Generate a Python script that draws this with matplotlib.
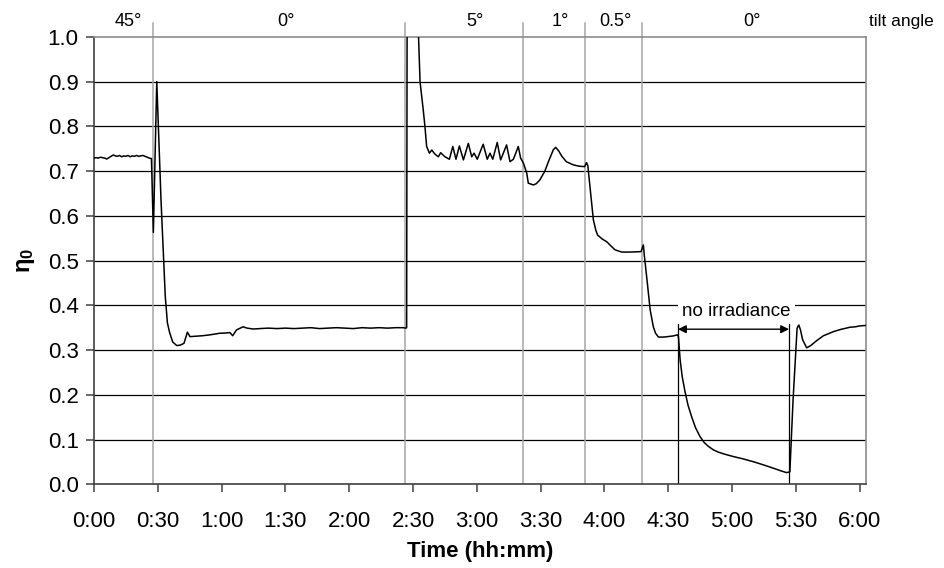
import matplotlib
matplotlib.use("Agg")
import matplotlib.pyplot as plt

plt.rcParams['font.family'] = ['Liberation Sans', 'DejaVu Sans']
plt.rcParams['mathtext.fontset'] = 'custom'
plt.rcParams['mathtext.rm'] = 'Liberation Sans'
plt.rcParams['mathtext.it'] = 'Liberation Sans:italic'
plt.rcParams['mathtext.bf'] = 'Liberation Sans:bold'

# ---- data (time in minutes, efficiency eta0) ----
time_min = [0, 1, 2, 3, 4, 5, 6, 7, 8, 9, 10, 11, 12, 13, 14, 15, 16, 17, 18, 19, 20,
            21, 22, 23, 24, 25, 26, 27, 27.9, 29.5, 31.5, 33.5, 34.5, 35.5, 37, 38.9,
            40.5, 42.3, 43.9, 45.1, 48, 51, 54.5, 57, 59.2, 61.5, 63.9, 65.2, 67, 70.1,
            72, 74.9, 78, 82, 86, 90, 94, 98, 102, 106, 110, 114, 118, 122, 126, 130,
            134, 138, 142, 145.4, 146.6, 147.0, 147.3, 150, 152.3, 152.6, 153.3, 154.8,
            155.6, 156.4, 157.7, 158.8, 160.3, 161.9, 163, 165, 167.1, 168.7, 170.2,
            171.8, 173.7, 176, 177.6, 178.7, 180.2, 183, 184.9, 186.2, 187.5, 189.6,
            191.2, 194, 195.6, 197.2, 199.5, 200.6, 201.9, 203.5, 204.2, 206.6, 208,
            209.6, 211.9, 214, 216, 217.1, 218.5, 220, 222.1, 225.3, 228, 230.7, 231.6,
            232.2, 233.2, 234.8, 236, 236.8, 239, 241.1, 243, 245, 248.1, 252, 257.2,
            258.3, 258.8, 260.2, 261.5, 263, 264, 265.4, 268, 272.4, 274.3, 274.8,
            275.6, 276.6, 277.9, 279.3, 281, 282.8, 284.9, 286.8, 288.8, 291.2, 293.5,
            296, 300.6, 305, 310, 315, 319.4, 323, 325.7, 327.2, 328.7, 330.6, 331.4,
            332.2, 333.2, 335.1, 337, 339.8, 343, 347.6, 351, 355.5, 358, 360.2, 363]
eta0 = [0.729, 0.730, 0.729, 0.731, 0.730, 0.729, 0.727, 0.730, 0.733, 0.736, 0.734,
        0.733, 0.735, 0.732, 0.734, 0.733, 0.735, 0.732, 0.734, 0.733, 0.735, 0.733,
        0.734, 0.735, 0.733, 0.731, 0.729, 0.728, 0.563, 0.900, 0.635, 0.420, 0.361,
        0.340, 0.318, 0.310, 0.311, 0.315, 0.340, 0.330, 0.331, 0.332, 0.334, 0.336,
        0.3376, 0.338, 0.339, 0.332, 0.345, 0.352, 0.349, 0.347, 0.348, 0.349, 0.348,
        0.349, 0.348, 0.349, 0.350, 0.348, 0.349, 0.350, 0.349, 0.348, 0.350, 0.349,
        0.350, 0.349, 0.350, 0.350, 0.349, 0.350, 1.300, 1.300, 1.250, 1.000, 0.900,
        0.837, 0.800, 0.755, 0.740, 0.747, 0.738, 0.732, 0.741, 0.732, 0.7265, 0.755,
        0.7265, 0.756, 0.725, 0.762, 0.732, 0.740, 0.7265, 0.760, 0.7265, 0.740,
        0.7265, 0.764, 0.725, 0.7585, 0.721, 0.7265, 0.755, 0.729, 0.718, 0.695,
        0.673, 0.669, 0.672, 0.680, 0.699, 0.725, 0.748, 0.753, 0.745, 0.733, 0.721,
        0.714, 0.711, 0.710, 0.719, 0.712, 0.665, 0.591, 0.567, 0.557, 0.548, 0.542,
        0.533, 0.524, 0.519, 0.519, 0.520, 0.535, 0.510, 0.449, 0.390, 0.352, 0.338,
        0.329, 0.329, 0.3316, 0.334, 0.330,
        0.278, 0.240, 0.207, 0.177, 0.151, 0.127, 0.107, 0.094, 0.085, 0.077, 0.072,
        0.068, 0.062, 0.057, 0.0505, 0.043, 0.036, 0.030, 0.026, 0.028, 0.188, 0.349,
        0.356, 0.345, 0.323, 0.305, 0.310, 0.321, 0.332, 0.341, 0.346, 0.351, 0.352,
        0.354, 0.355]

tilt_boundaries = [27.6, 146.2, 201.9, 231.0, 257.8]
tilt_labels = ['45°', '0°', '5°', '1°', '0.5°', '0°']
tilt_label_x = [16.0, 90.1, 179.1, 219.1, 245.0, 309.3]
dark_start, dark_end = 274.6, 326.8
x_ticks = list(range(0, 361, 30))
x_tick_labels = ['0:00', '0:30', '1:00', '1:30', '2:00', '2:30', '3:00', '3:30',
                 '4:00', '4:30', '5:00', '5:30', '6:00']
y_ticks = [0.0, 0.1, 0.2, 0.3, 0.4, 0.5, 0.6, 0.7, 0.8, 0.9, 1.0]

fig = plt.figure(figsize=(9.45, 5.68), dpi=100)
ax = fig.add_axes([0.0995, 0.1474, 0.8169, 0.7877])
ax.set_xlim(0, 363)
ax.set_ylim(0, 1.0)

for yv in y_ticks[1:-1]:
    ax.axhline(yv, color='black', lw=0.9, zorder=1)

for xb in tilt_boundaries:
    ax.plot([xb, xb], [0, 1.032], color='#a6a6a6', lw=1.1, clip_on=False, zorder=1)

ax.plot([dark_start, dark_start], [0, 0.358], color='black', lw=0.9, zorder=2)
ax.plot([dark_end, dark_end], [0, 0.358], color='black', lw=0.9, zorder=2)

ax.plot(time_min, eta0, color='black', lw=1.1, zorder=3)

ax.annotate('', xy=(dark_start, 0.3466), xytext=(dark_end, 0.3466),
            arrowprops=dict(arrowstyle='<|-|>', color='black', lw=1.0,
                            mutation_scale=12, shrinkA=0, shrinkB=0), zorder=4)
ax.text(302.2, 0.387, 'no irradiance', ha='center', va='center', fontsize=13.5,
        bbox=dict(facecolor='white', edgecolor='none', pad=3), zorder=4)

for lab, xp in zip(tilt_labels, tilt_label_x):
    ax.text(xp, 1.0246, lab, ha='center', va='baseline', fontsize=13, clip_on=False)
ax.text(379.8, 1.0246, 'tilt angle', ha='center', va='baseline', fontsize=12.5,
        clip_on=False)

ax.set_xticks(x_ticks)
ax.set_xticklabels(x_tick_labels)
ax.set_yticks(y_ticks)
ax.set_yticklabels([f'{v:.1f}' for v in y_ticks])
ax.tick_params(axis='both', direction='out', length=6, width=1.1, color='#404040',
               labelsize=16)
ax.tick_params(axis='x', pad=13)
ax.tick_params(axis='y', pad=5)

for side in ['left', 'bottom']:
    ax.spines[side].set_color('#404040')
    ax.spines[side].set_linewidth(1.2)
for side in ['top', 'right']:
    ax.spines[side].set_color('#8c8c8c')
    ax.spines[side].set_linewidth(1.2)

ax.set_xlabel('Time (hh:mm)', fontsize=16, fontweight='bold', labelpad=7)
ax.set_ylabel(r'$\mathbf{\eta_0}$', fontsize=17, labelpad=8)

fig.savefig('out.png', dpi=100)
